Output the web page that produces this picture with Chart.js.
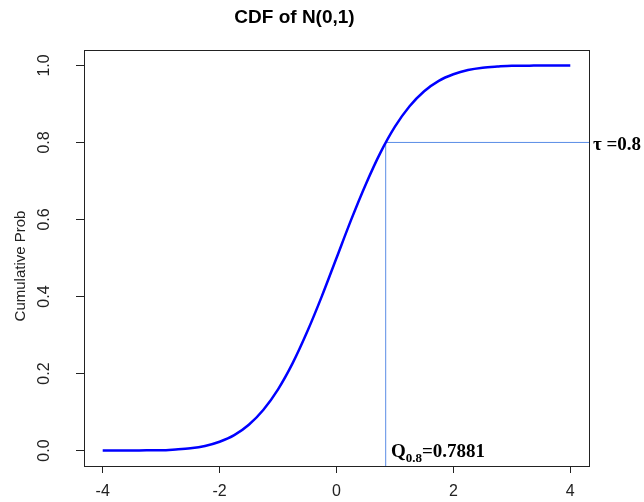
<!DOCTYPE html>
<html>
<head>
<meta charset="utf-8">
<script src="https://cdn.jsdelivr.net/npm/chart.js@4"></script>
<style>
  html, body { margin: 0; padding: 0; background: #fff; }
</style>
</head>
<body>
<canvas id="cdfChart" width="644" height="502"></canvas>
<script>
// values
const xVals = [-4, -3.75, -3.5, -3.25, -3, -2.75, -2.5, -2.25, -2, -1.75, -1.5, -1.25, -1, -0.75, -0.5, -0.25,
  0, 0.25, 0.5, 0.75, 1, 1.25, 1.5, 1.75, 2, 2.25, 2.5, 2.75, 3, 3.25, 3.5, 3.75, 4];
const cdfVals = [0, 0, 0, 0.001, 0.001, 0.003, 0.006, 0.012, 0.023, 0.04, 0.067, 0.106, 0.159, 0.227, 0.309, 0.401,
  0.5, 0.599, 0.691, 0.773, 0.841, 0.894, 0.933, 0.96, 0.977, 0.988, 0.994, 0.997, 0.999, 0.999, 1, 1, 1];
const xTicks = [-4, -2, 0, 2, 4];
const yTicks = [0, 0.2, 0.4, 0.6, 0.8, 1.0];
const yTickLabels = ['0.0', '0.2', '0.4', '0.6', '0.8', '1.0'];
const qX = 0.8416;   // where the guide lines meet the curve
const tau = 0.8;
const xLim = [-4.32, 4.32];
const yLim = [-0.04, 1.04];

const curve = xVals.map((x, i) => ({ x: x, y: cdfVals[i] }));
const guideColor = '#5a8de6';
const ink = '#222';

const ctx = document.getElementById('cdfChart').getContext('2d');

const extras = {
  id: 'extras',
  afterDraw(chart) {
    const c = chart.ctx;
    const a = chart.chartArea;
    const ys = chart.scales.y;
    c.save();
    // box round the plot
    c.strokeStyle = ink;
    c.lineWidth = 1;
    c.strokeRect(Math.round(a.left) + 0.5, Math.round(a.top) + 0.5,
      Math.round(a.right - a.left), Math.round(a.bottom - a.top));

    // y tick labels, rotated like R
    c.fillStyle = ink;
    c.font = '16px "Liberation Sans", Arial, sans-serif';
    c.textAlign = 'center';
    c.textBaseline = 'middle';
    yTicks.forEach((v, i) => {
      c.save();
      c.translate(45, ys.getPixelForValue(v));
      c.rotate(-Math.PI / 2);
      c.fillText(yTickLabels[i], 0, 0);
      c.restore();
    });

    // y axis title
    c.save();
    c.font = '15px "Liberation Sans", Arial, sans-serif';
    c.translate(21, 266);
    c.rotate(-Math.PI / 2);
    c.fillText('Cumulative Prob', 0, 0);
    c.restore();

    // annotations
    c.fillStyle = '#000';
    c.textAlign = 'left';
    c.textBaseline = 'alphabetic';
    c.font = 'bold 19px "Liberation Serif", "Times New Roman", serif';
    c.fillText('\u03c4 =0.8', a.right + 4, ys.getPixelForValue(tau) + 8);

    let tx = 391;
    const ty = 457;
    c.fillText('Q', tx, ty);
    tx += c.measureText('Q').width;
    c.font = 'bold 13px "Liberation Serif", "Times New Roman", serif';
    c.fillText('0.8', tx, ty + 5);
    tx += c.measureText('0.8').width;
    c.font = 'bold 19px "Liberation Serif", "Times New Roman", serif';
    c.fillText('=0.7881', tx, ty);
    c.restore();
  }
};

new Chart(ctx, {
  type: 'line',
  data: {
    datasets: [
      {
        label: 'CDF',
        data: curve,
        borderColor: '#0000ff',
        borderWidth: 2.5,
        pointRadius: 0,
        fill: false,
        cubicInterpolationMode: 'monotone'
      },
      {
        label: 'quantile',
        data: [{ x: qX, y: yLim[0] }, { x: qX, y: tau }],
        borderColor: guideColor,
        borderWidth: 1,
        pointRadius: 0,
        fill: false
      },
      {
        label: 'tau',
        data: [{ x: qX, y: tau }, { x: xLim[1], y: tau }],
        borderColor: guideColor,
        borderWidth: 1,
        pointRadius: 0,
        fill: false
      }
    ]
  },
  options: {
    responsive: false,
    animation: false,
    layout: { padding: { left: 0, right: 55, top: 0, bottom: 0 } },
    plugins: {
      legend: { display: false },
      tooltip: { enabled: false },
      title: {
        display: true,
        text: 'CDF of N(0,1)',
        color: '#000',
        font: { family: '"Liberation Sans", Arial, sans-serif', size: 19, weight: 'bold' },
        padding: { top: 6, bottom: 21.2 }
      }
    },
    scales: {
      x: {
        type: 'linear',
        min: xLim[0],
        max: xLim[1],
        afterBuildTicks: s => { s.ticks = xTicks.map(v => ({ value: v })); },
        afterFit: s => { s.height = 36; },
        border: { display: false },
        grid: { drawOnChartArea: false, drawTicks: true, tickLength: 7, color: ink },
        ticks: {
          color: ink,
          padding: 9,
          font: { family: '"Liberation Sans", Arial, sans-serif', size: 16 },
          maxRotation: 0,
          callback: v => String(v)
        }
      },
      y: {
        type: 'linear',
        min: yLim[0],
        max: yLim[1],
        afterBuildTicks: s => { s.ticks = yTicks.map(v => ({ value: v })); },
        afterFit: s => { s.width = 84; },
        border: { display: false },
        grid: { drawOnChartArea: false, drawTicks: true, tickLength: 8, color: ink },
        ticks: { display: false }
      }
    }
  },
  plugins: [extras]
});
</script>
</body>
</html>
